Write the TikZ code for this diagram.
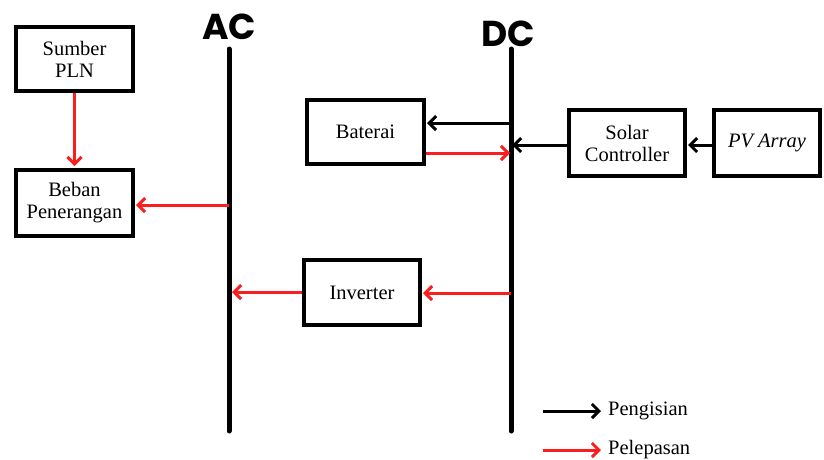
\documentclass[tikz,border=0pt]{standalone}
\usepackage{fontspec}
\setmainfont{Liberation Serif}
\newfontfamily\busfont{Poppins}
\usetikzlibrary{arrows.meta}
\definecolor{lred}{RGB}{250,30,30}
\tikzset{
  blk/.style={draw=black, line width=4pt, rectangle, align=center, font=\fontsize{20.5}{22}\selectfont, inner sep=0pt},
  bus/.style={line width=5pt, line cap=round},
  buslabel/.style={font=\busfont\bfseries\fontsize{36}{36}\selectfont, inner sep=0pt},
  chg/.style={draw=black, line width=3pt, -{Straight Barb[length=7pt,width=14pt,line width=3pt]}},
  dis/.style={draw=lred, line width=3pt, -{Straight Barb[length=7pt,width=14pt,line width=3pt]}},
  legtxt/.style={font=\fontsize{20.5}{22}\selectfont, anchor=west, inner sep=0pt}
}
\begin{document}
\begin{tikzpicture}[x=1pt,y=-1pt]
\useasboundingbox (0,0) rectangle (824,459);
% buses
\node[buslabel] (ac) at (229,27) {AC};
\node[buslabel] (dc) at (508,34) {DC};
\coordinate (actop) at (229,49);
\coordinate (acbot) at (229,431);
\coordinate (dctop) at (511,49);
\coordinate (dcbot) at (511,431);
\draw[bus] (actop) -- (acbot);
\draw[bus] (dctop) -- (dcbot);
% blocks
\node[blk, minimum width=117pt, minimum height=64pt] (pln) at (74.5,59) {Sumber\\PLN};
\node[blk, minimum width=117pt, minimum height=66pt] (beban) at (74.5,203) {Beban\\Penerangan};
\node[blk, minimum width=117pt, minimum height=64pt] (bat) at (365.5,132) {Baterai};
\node[blk, minimum width=116pt, minimum height=66pt] (sc) at (627,143) {Solar\\Controller};
\node[blk, minimum width=106pt, minimum height=66pt] (pv) at (767,143) {\itshape PV Array};
\node[blk, minimum width=116pt, minimum height=65pt] (inv) at (362,292.5) {Inverter};
% bus points
\coordinate (ac1) at (229,205);
\coordinate (ac2) at (229,292);
\coordinate (dc1) at (511,123);
\coordinate (dc2) at (511,153);
\coordinate (dc3) at (511,145);
\coordinate (dc4) at (511,293);
% connectors
\draw[dis] (pln.south) -- ([yshift=2pt]beban.north);
\draw[dis] (ac1) -- ([xshift=1pt]beban.east |- ac1);
\draw[chg] (dc1) -- ([xshift=1pt]bat.east |- dc1);
\draw[dis] (bat.east |- dc2) -- ([xshift=-1pt]dc2);
\draw[chg] (pv.west |- dc3) -- ([xshift=1pt]sc.east |- dc3);
\draw[chg] (sc.west |- dc3) -- ([xshift=1pt]dc3);
\draw[dis] (dc4) -- ([xshift=1pt]inv.east |- dc4);
\draw[dis] (inv.west |- ac2) -- ([xshift=3pt]ac2);
% legend
\node[legtxt] (lg1) at (608,411) {Pengisian};
\node[legtxt] (lg2) at (608,450) {Pelepasan};
\coordinate (l1) at (543,411);
\coordinate (l2) at (543,450);
\draw[chg] (l1) -- ([xshift=-7pt]lg1.west);
\draw[dis] (l2) -- ([xshift=-7pt]lg2.west);
\end{tikzpicture}
\end{document}
